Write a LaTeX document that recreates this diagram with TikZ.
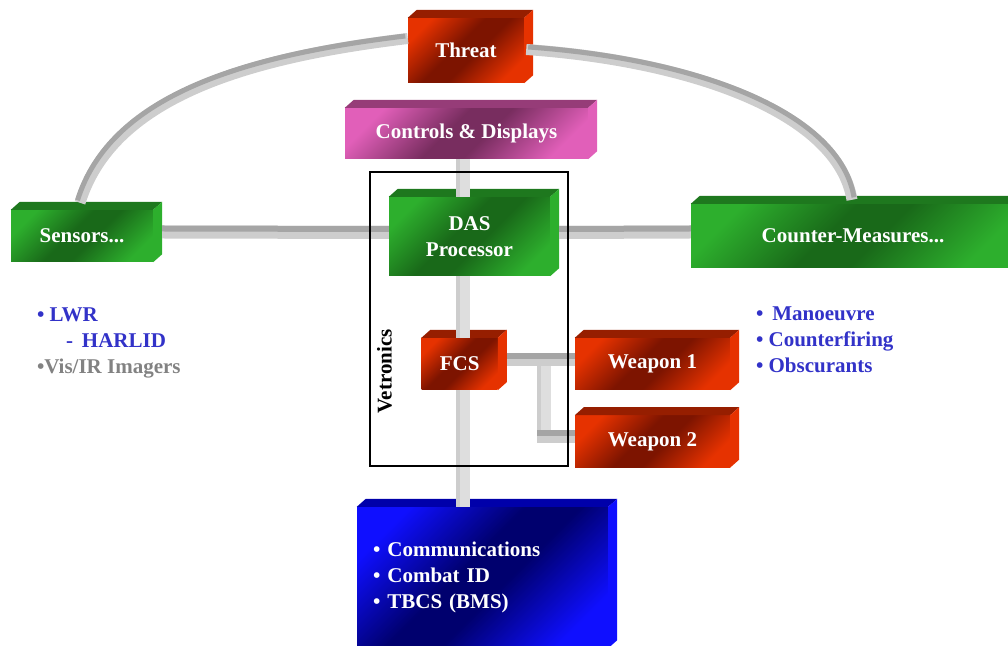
\documentclass[tikz,border=0pt]{standalone}
\usepackage{fontspec}
\setmainfont{Liberation Serif}
\usepackage{tikz}
\usetikzlibrary{positioning,calc}

\definecolor{redlt}{RGB}{230,50,0}
\definecolor{reddk}{RGB}{125,20,0}
\definecolor{redtop}{RGB}{150,30,0}
\definecolor{grnlt}{RGB}{45,175,45}
\definecolor{grndk}{RGB}{25,105,25}
\definecolor{grntop}{RGB}{30,120,30}
\definecolor{maglt}{RGB}{225,95,185}
\definecolor{magdk}{RGB}{120,45,95}
\definecolor{magtop}{RGB}{150,60,120}
\definecolor{blult}{RGB}{15,15,255}
\definecolor{bludk}{RGB}{0,0,110}
\definecolor{blutop}{RGB}{0,0,170}
\definecolor{barlt}{RGB}{205,205,205}
\definecolor{bardk}{RGB}{165,165,165}
\definecolor{barpale}{RGB}{222,222,222}
\definecolor{listblue}{RGB}{50,50,200}
\definecolor{listgray}{RGB}{130,130,130}

\pgfdeclarehorizontalshading{redshade}{100bp}{color(0bp)=(redlt); color(24bp)=(redlt); color(45bp)=(reddk); color(55bp)=(reddk); color(76bp)=(redlt); color(100bp)=(redlt)}
\pgfdeclarehorizontalshading{grnshade}{100bp}{color(0bp)=(grnlt); color(24bp)=(grnlt); color(45bp)=(grndk); color(55bp)=(grndk); color(76bp)=(grnlt); color(100bp)=(grnlt)}
\pgfdeclarehorizontalshading{magshade}{100bp}{color(0bp)=(maglt); color(24bp)=(maglt); color(45bp)=(magdk); color(55bp)=(magdk); color(76bp)=(maglt); color(100bp)=(maglt)}
\pgfdeclarehorizontalshading{blushade}{100bp}{color(0bp)=(blult); color(24bp)=(blult); color(45bp)=(bludk); color(55bp)=(bludk); color(76bp)=(blult); color(100bp)=(blult)}

\tikzstyle{box} = [rectangle, shade, shading angle=-45, text=white, inner sep=0pt, align=center, font=\fontsize{21}{26}\selectfont\bfseries]
\tikzstyle{redbox} = [box, shading=redshade]
\tikzstyle{grnbox} = [box, shading=grnshade]
\tikzstyle{magbox} = [box, shading=magshade]
\tikzstyle{blubox} = [box, shading=blushade]
\tikzstyle{list} = [anchor=north west, inner sep=0pt, align=left, text=listblue, font=\fontsize{21}{26}\selectfont\bfseries]
\tikzstyle{hbar} = [line width=13pt, draw=barlt]
\tikzstyle{hbartop} = [line width=6pt, draw=bardk, transform canvas={yshift=3.5pt}]
\tikzstyle{vbar} = [line width=14pt, draw=barpale]
\tikzstyle{vbarside} = [line width=4pt, draw=barlt, transform canvas={xshift=-5pt}]
\tikzstyle{arc} = [line width=11pt, draw=barlt]
\tikzstyle{arctop} = [line width=5pt, draw=bardk]

\begin{document}
\begin{tikzpicture}[x=1pt, y=1pt]
    \useasboundingbox (0,0) rectangle (1008,645);
    \clip (0,0) rectangle (1008,645);
    % Boxes
    \node [redbox, minimum width=116pt, minimum height=65pt] (threat) at (466,594.5) {Threat};
    \node [magbox, minimum width=243pt, minimum height=51pt] (cd) at (466.5,511.5) {Controls \& Displays};
    \node [grnbox, minimum width=142pt, minimum height=52pt] (sensors) at (82,409) {Sensors...};
    \node [grnbox, minimum width=161pt, minimum height=79pt] (das) at (469.5,408.5) {DAS\\Processor};
    \node [grnbox, minimum width=324pt, minimum height=64pt] (counter) at (853,409) {Counter-Measures...};
    \node [redbox, minimum width=155pt, minimum height=52pt] (weapon1) at (652.5,281) {Weapon 1};
    \node [redbox, below=25pt of weapon1, minimum width=155pt, minimum height=52pt] (weapon2) {Weapon 2};
    \node [redbox, left=77pt of weapon1, minimum width=76pt, minimum height=52pt] (fcs) {FCS};
    \node [blubox, minimum width=251pt, minimum height=141pt, text width=219pt, inner xsep=16pt, align=left] (comms) at (482.5,67.5)
        {\textbullet\ Communications\\ \textbullet\ Combat ID\\ \textbullet\ TBCS (BMS)};

    % Faces
    \foreach \n/\tc/\sc in {threat/redtop/redlt, cd/magtop/maglt, sensors/grntop/grnlt, das/grntop/grnlt,
        counter/grntop/grnlt, fcs/redtop/redlt, weapon1/redtop/redlt, weapon2/redtop/redlt, comms/blutop/blult} {
        \fill [\tc] (\n.north west) -- ++(9,8) -- ([shift={(9,8)}]\n.north east) -- (\n.north east) -- cycle;
        \fill [\sc] (\n.north east) -- ++(9,8) -- ([shift={(9,8)}]\n.south east) -- (\n.south east) -- cycle;
    }

    % Links
    \coordinate (spine) at (463,0);
    \coordinate (split) at (544,285);
    \foreach \a/\b in {cd/das, das/fcs, fcs/comms} {
        \draw [vbar] (\a.south -| spine) -- (\b.north -| spine);
        \draw [vbarside] (\a.south -| spine) -- (\b.north -| spine);
    }
    \draw [vbar] (split) -- ([yshift=-1pt]weapon2.west -| split);
    \draw [vbarside] (split) -- ([yshift=-1pt]weapon2.west -| split);
    \foreach \a/\b in {sensors/das, das/counter, fcs/weapon1} {
        \draw [hbar] ([shift={(9,4)}]\a.east) -- ([yshift=4pt]\b.west);
        \draw [hbartop] ([shift={(9,4)}]\a.east) -- ([yshift=4pt]\b.west);
    }
    \draw [hbar] ([shift={(-7,5)}]weapon2.west -| split) -- ([yshift=5pt]weapon2.west);
    \draw [hbartop] ([shift={(-7,5)}]weapon2.west -| split) -- ([yshift=5pt]weapon2.west);

    % Threat arcs
    \draw [arc] ([shift={(-2,7)}]sensors.north) .. controls +(32,103) and +(-167,-20) .. ([yshift=12pt]threat.west);
    \draw [arctop, transform canvas={shift={(-2.5,2.5)}}]
        ([shift={(-2,7)}]sensors.north) .. controls +(32,103) and +(-167,-20) .. ([yshift=12pt]threat.west);
    \draw [arc] ([shift={(2,1)}]threat.east) .. controls +(170,-12) and +(-14,85) .. ([shift={(-1,4)}]counter.north);
    \draw [arctop, transform canvas={shift={(2,2.5)}}]
        ([shift={(2,1)}]threat.east) .. controls +(170,-12) and +(-14,85) .. ([shift={(-1,4)}]counter.north);

    % Vetronics frame
    \node [draw, line width=1.3pt, minimum width=198pt, minimum height=294pt] (vetframe) at (469,326) {};
    \node [rotate=90, font=\fontsize{21}{26}\selectfont\bfseries] (vetlabel) at (384.5,273.5) {Vetronics};

    % Lists
    \node [list] (sensorlist) at ([shift={(26,-45)}]sensors.south west)
        {\textbullet\ LWR\\ \hspace*{29pt}-\hspace{9pt}HARLID\\ {\color{listgray}\textbullet Vis/IR Imagers}};
    \node [list] (counterlist) at ([shift={(65,-38)}]counter.south west)
        {\textbullet\hspace{9pt}Manoeuvre\\ \textbullet\ Counterfiring\\ \textbullet\ Obscurants};
\end{tikzpicture}
\end{document}
